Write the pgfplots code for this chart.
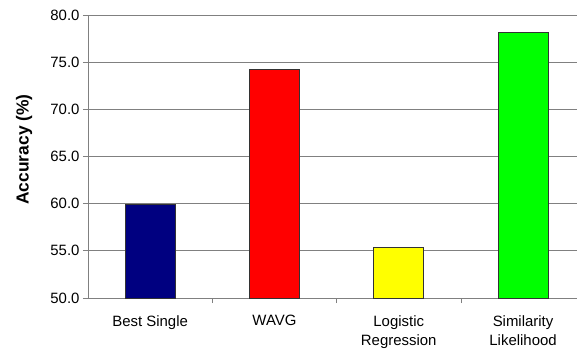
\documentclass[border=0pt]{standalone}
\usepackage{pgfplots}
\pgfplotsset{compat=1.18}
\usepackage{fontspec}
\setmainfont{Liberation Sans}
\definecolor{gridgray}{RGB}{128,128,128}
\definecolor{navybar}{RGB}{0,0,128}
\definecolor{redbar}{RGB}{255,0,0}
\definecolor{yellowbar}{RGB}{255,255,0}
\definecolor{greenbar}{RGB}{0,255,0}
\begin{document}
\begin{tikzpicture}
\begin{axis}[
  at={(0,0)}, anchor=south west,
  scale only axis,
  width=489bp, height=283bp,
  xmin=-0.5, xmax=3.434,
  ymin=50, ymax=80,
  ytick={50,55,60,65,70,75,80},
  /pgf/number format/fixed,
  /pgf/number format/fixed zerofill,
  /pgf/number format/precision=1,
  /pgf/number format/assume math mode=true,
  xtick={0,1,2,3},
  xticklabels={Best Single, WAVG, Logistic\\Regression, Similarity\\Likelihood},
  xticklabel style={align=center, font=\fontsize{15}{19.5}\selectfont, anchor=north, yshift=-9bp},
  yticklabel style={font=\fontsize{15}{18}\selectfont},
  minor xtick={0.5,1.5,2.5},
  major x tick style={draw=none},
  tick align=outside,
  major tick length=5bp,
  minor tick length=5bp,
  tick style={gridgray, line width=0.8bp},
  axis x line*=bottom,
  axis y line*=left,
  axis line style={gridgray, line width=0.8bp, -},
  ymajorgrids,
  grid style={gridgray, line width=0.8bp},
  ylabel={\fontsize{17.5}{20}\selectfont\bfseries Accuracy (\%)},
  ylabel style={at={(axis description cs:0,0.5)}, anchor=center, yshift=64bp, xshift=7bp},
  bar width=50bp,
  ybar, bar shift=0pt,
  clip=false,
]
\addplot[fill=navybar, draw=black!80, line width=0.7bp] coordinates {(0,59.9)};
\addplot[fill=redbar, draw=black!80, line width=0.7bp] coordinates {(1,74.2)};
\addplot[fill=yellowbar, draw=black!80, line width=0.7bp] coordinates {(2,55.4)};
\addplot[fill=greenbar, draw=black!80, line width=0.7bp] coordinates {(3,78.2)};
\end{axis}
\pgfresetboundingbox
\path (-88bp,-51bp) rectangle (489bp,298bp);
\end{tikzpicture}
\end{document}
